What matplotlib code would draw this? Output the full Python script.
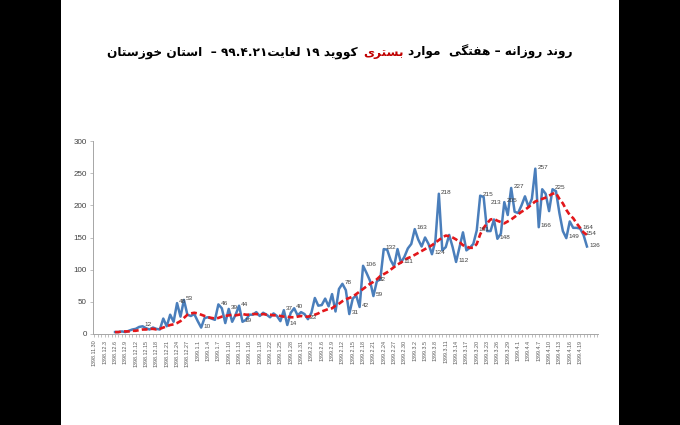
import numpy as np
import matplotlib.pyplot as plt
from matplotlib.patches import Rectangle
from matplotlib.offsetbox import TextArea, HPacker, AnchoredOffsetbox

# day index: 0 = 1398.11.30, data from 1398.12.6 (6) to 1399.4.21 (143)
days = np.arange(6, 144)

daily = [3, 3, 4, 3, 5, 7, 8, 11, 12, 9,
         7, 10, 8, 7, 24, 12, 30, 19, 48, 27,
         53, 30, 28, 31, 20, 10, 25, 26, 24, 22,
         46, 40, 17, 39, 19, 30, 44, 19, 22, 30,
         30, 34, 28, 33, 30, 26, 32, 28, 20, 37,
         14, 33, 40, 29, 34, 31, 23, 33, 56, 44,
         45, 55, 43, 62, 35, 70, 78, 68, 31, 55,
         60, 42, 106, 95, 83, 59, 82, 85, 132, 131,
         115, 105, 132, 111, 120, 133, 140, 163, 147, 136,
         150, 140, 124, 145, 218, 130, 135, 154, 135, 112,
         135, 158, 130, 134, 140, 161, 215, 213, 160, 160,
         178, 148, 156, 205, 185, 227, 190, 188, 200, 214,
         198, 210, 257, 166, 225, 218, 191, 225, 222, 188,
         160, 149, 175, 165, 165, 164, 154, 136]

weekly = [3, 3, 4, 4, 4, 5, 5, 6, 7, 7,
          8, 8, 7, 8, 10, 12, 14, 15, 17, 20,
          25, 30, 32, 33, 32, 30, 28, 26, 25, 24,
          25, 27, 28, 29, 30, 29, 30, 31, 30, 30,
          31, 31, 30, 31, 30, 30, 29, 29, 28, 27,
          27, 26, 26, 27, 28, 27, 27, 28, 30, 32,
          35, 37, 39, 40, 44, 47, 51, 54, 56, 58,
          62, 66, 70, 74, 78, 81, 85, 90, 93, 96,
          100, 104, 108, 111, 115, 118, 120, 123, 126, 129,
          132, 135, 138, 142, 146, 150, 153, 152, 150, 147,
          143, 138, 136, 134, 134, 140, 155, 165, 172, 178,
          179, 176, 174, 172, 175, 178, 182, 186, 190, 193,
          197, 202, 206, 208, 210, 212, 215, 218, 219, 210,
          203, 193, 185, 180, 172, 165, 158, 154]

tick_labels = ['1398.11.30', '1398.12.3', '1398.12.6', '1398.12.9', '1398.12.12',
               '1398.12.15', '1398.12.18', '1398.12.21', '1398.12.24', '1398.12.27',
               '1399.1.1', '1399.1.4', '1399.1.7', '1399.1.10', '1399.1.13',
               '1399.1.16', '1399.1.19', '1399.1.22', '1399.1.25', '1399.1.28',
               '1399.1.31', '1399.2.3', '1399.2.6', '1399.2.9', '1399.2.12',
               '1399.2.15', '1399.2.18', '1399.2.21', '1399.2.24', '1399.2.27',
               '1399.2.30', '1399.3.2', '1399.3.5', '1399.3.8', '1399.3.11',
               '1399.3.14', '1399.3.17', '1399.3.20', '1399.3.23', '1399.3.26',
               '1399.3.29', '1399.4.1', '1399.4.4', '1399.4.7', '1399.4.10',
               '1399.4.13', '1399.4.16', '1399.4.19']

# points that carry a value label
label_days = [14, 24, 26, 31, 36, 39, 42, 43, 55, 56, 58, 62, 72, 74, 77, 78,
              81, 82, 84, 89, 93, 98, 100, 105, 111, 112, 113, 117, 119, 121,
              128, 129, 133, 137, 141, 142, 143]

# --- minimal persian shaping (matplotlib has no complex text layout) ---
FORMS = {
    'ا': ('\uFE8D', '\uFE8E', None, None),
    'ب': ('\uFE8F', '\uFE90', '\uFE91', '\uFE92'),
    'ت': ('\uFE95', '\uFE96', '\uFE97', '\uFE98'),
    'خ': ('\uFEA5', '\uFEA6', '\uFEA7', '\uFEA8'),
    'د': ('\uFEA9', '\uFEAA', None, None),
    'ر': ('\uFEAD', '\uFEAE', None, None),
    'ز': ('\uFEAF', '\uFEB0', None, None),
    'س': ('\uFEB1', '\uFEB2', '\uFEB3', '\uFEB4'),
    'غ': ('\uFECD', '\uFECE', '\uFECF', '\uFED0'),
    'ف': ('\uFED1', '\uFED2', '\uFED3', '\uFED4'),
    'ل': ('\uFEDD', '\uFEDE', '\uFEDF', '\uFEE0'),
    'م': ('\uFEE1', '\uFEE2', '\uFEE3', '\uFEE4'),
    'ن': ('\uFEE5', '\uFEE6', '\uFEE7', '\uFEE8'),
    'ه': ('\uFEE9', '\uFEEA', '\uFEEB', '\uFEEC'),
    'و': ('\uFEED', '\uFEEE', None, None),
    'ی': ('\uFBFC', '\uFBFD', '\uFBFE', '\uFBFF'),
    'ک': ('\uFB8E', '\uFB8F', '\uFB90', '\uFB91'),
    'گ': ('\uFB92', '\uFB93', '\uFB94', '\uFB95'),
}


def shape(word):
    out = []
    n = len(word)
    for i, ch in enumerate(word):
        iso, fin, ini, med = FORMS[ch]
        prev_j = i > 0 and FORMS[word[i-1]][2] is not None
        next_j = i < n-1 and ini is not None
        if prev_j and next_j:
            out.append(med)
        elif prev_j:
            out.append(fin)
        elif next_j:
            out.append(ini)
        else:
            out.append(iso)
    return ''.join(reversed(out))


fig = plt.figure(figsize=(6.8, 4.25), dpi=100)
fig.patch.set_facecolor('black')
fig.patches.append(Rectangle((61/680, 0), (619-61)/680, 1, transform=fig.transFigure,
                             facecolor='white', edgecolor='none', zorder=-5))

ax = fig.add_axes([93/680, (425-334)/425, (598-93)/680, (334-141)/425])
ax.set_zorder(2)
ax.set_facecolor('white')

ax.plot(days, daily, color='#4A7EBB', lw=1.8, zorder=2)
ax.plot(days, weekly, color='#E3171B', lw=1.9, ls=(0, (2.2, 1.2)), zorder=3)

for d in label_days:
    v = daily[d-6]
    off = (5, -4) if d == 113 else (1.5, 1)
    ax.annotate(str(v), (d, v), xytext=off, textcoords='offset points',
                fontsize=4.6, color='#404040', ha='left', va='center',
                family='Liberation Sans')

ax.set_xlim(-0.4, 146.2)
ax.set_ylim(0, 300)
ax.set_yticks(np.arange(0, 301, 50))
ax.set_xticks(np.arange(0, 144, 3))
ax.set_xticklabels(tick_labels, rotation=90, fontsize=3.9, color='#595959',
                   family='Liberation Sans')
ax.set_xticks(np.arange(0, 147, 1), minor=True)
for lab in ax.get_yticklabels():
    lab.set_fontsize(5.8)
    lab.set_color('#404040')
    lab.set_family('Liberation Sans')

for s in ['top', 'right']:
    ax.spines[s].set_visible(False)
for s in ['left', 'bottom']:
    ax.spines[s].set_color('#A6A6A6')
    ax.spines[s].set_linewidth(0.7)
ax.tick_params(axis='both', which='both', color='#A6A6A6', width=0.5)
ax.tick_params(axis='x', which='major', length=2.5, pad=1.5)
ax.tick_params(axis='x', which='minor', length=2)
ax.tick_params(axis='y', length=2.5, pad=2)

# title, visual order left to right, with the red word in the middle
tp = dict(fontsize=8.7, fontweight='bold', family='DejaVu Sans')
left_txt = (shape('خوزستان') + ' ' + shape('استان') + '  – ' + '۹۹.۴.۲۱' +
            shape('لغایت') + ' ' + '۱۹' + ' ' + shape('کووید'))
red_txt = shape('بستری')
right_txt = (shape('موارد') + '  ' + shape('هفتگی') + ' – ' +
             shape('روزانه') + ' ' + shape('روند'))
box = HPacker(children=[TextArea(left_txt, textprops=dict(color='black', **tp)),
                        TextArea(red_txt, textprops=dict(color='#C00000', **tp)),
                        TextArea(right_txt, textprops=dict(color='black', **tp))],
              align='baseline', pad=0, sep=3.5)
anch = AnchoredOffsetbox(loc='center', child=box, frameon=False,
                         bbox_to_anchor=(0.5, 1 - 52/425),
                         bbox_transform=fig.transFigure, pad=0, borderpad=0)
fig.add_artist(anch)

fig.savefig('out.png', dpi=100, facecolor=fig.get_facecolor())
